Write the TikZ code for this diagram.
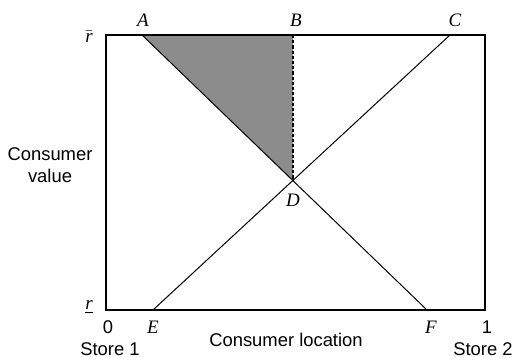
\documentclass[tikz,border=0pt]{standalone}
\usepackage{fontspec}
\setmainfont{Liberation Sans}
\newfontfamily\labelfont{Liberation Serif}
\usetikzlibrary{positioning, calc}

\begin{document}
\begin{tikzpicture}[x=0.5pt, y=-0.5pt,
    frame/.style={line width=1.3pt, line join=miter},
    ray/.style={line width=0.5pt},
    gainfill/.style={fill=black!45},
    ptlabel/.style={font=\fontsize{9.5}{11}\selectfont\labelfont\itshape, inner sep=1pt},
    axislabel/.style={font=\fontsize{9.2}{11}\selectfont, inner sep=1pt, align=center}
]
\useasboundingbox (0,0) rectangle (516,357);

% ===== BOX CORNERS =====
\coordinate (TL) at (106,35);
\coordinate (TR) at (485,35);
\coordinate (BL) at (106,310);
\coordinate (BR) at (485,310);

% Points on top and bottom edges
\coordinate (A) at (142,35);
\coordinate (C) at (450,35);
\coordinate (E) at (153,310);
\coordinate (F) at (427,310);
\coordinate (D) at (intersection of A--F and E--C);
\coordinate (B) at (D |- A);

% Shaded triangle
\fill[gainfill] (A) -- (B) -- (D) -- cycle;

% Value lines of the two stores
\draw[ray] (A) -- (F);
\draw[ray] (E) -- (C);
\draw[ray, line width=0.7pt, dash pattern=on 1.6pt off 1pt] (B) -- (D);

% Frame
\draw[frame] (BR) -- (BL) -- (TL) -- (TR) -- cycle;

% ===== LABELS =====
\foreach \p/\x/\y in {A/143/20, B/296/20, C/455/20, D/293/200, E/153/327, F/431/327} {
    \node[ptlabel] (lab\p) at (\x,\y) {\p};
}
\node[ptlabel] (rhigh) at (89,37) {$\bar{\mbox{\labelfont\itshape r}}$};
\node[ptlabel] (rlow) at (89,307) {\underline{r}};

\node[axislabel] (zero) at (108,327) {0};
\node[axislabel] (one) at (487,327) {1};
\node[axislabel] (store1) at (110,349) {Store 1};
\node[axislabel] (store2) at (483,349) {Store 2};
\node[axislabel] (xlabel) at (286,340) {Consumer location};
\node[axislabel] (ylabel) at (50,165) {Consumer\\value};

\end{tikzpicture}
\end{document}
